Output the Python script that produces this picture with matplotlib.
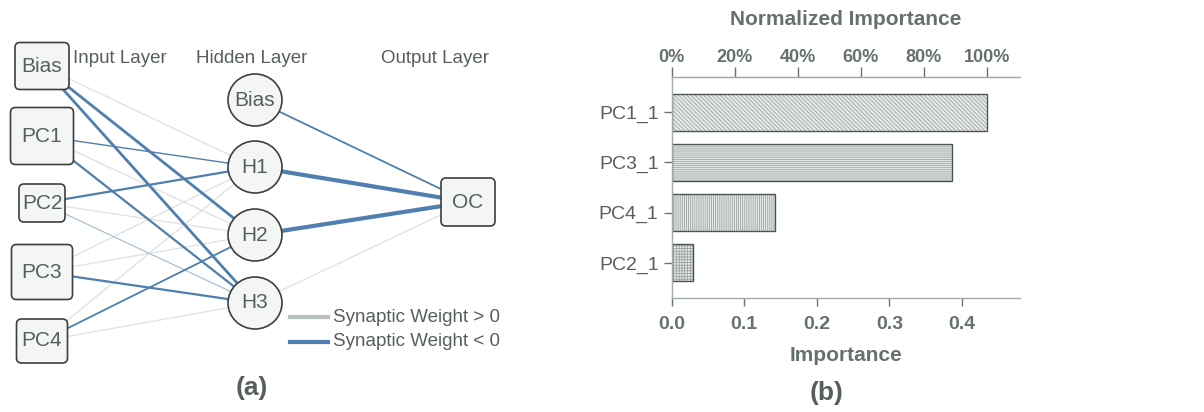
import matplotlib.pyplot as plt
from matplotlib.patches import FancyBboxPatch, Ellipse
from matplotlib.lines import Line2D

plt.rcParams['font.family'] = ['Liberation Sans', 'DejaVu Sans']
plt.rcParams['hatch.linewidth'] = 0.6

TEXT = '#565f5d'
LIGHT_TEXT = '#66716f'
BLUE = '#4f7fae'
LIGHT_BLUE = '#9bbad6'
GRAY_LINE = '#dfe4e2'

# --- (a) network diagram ---
input_names = ['Bias', 'PC1', 'PC2', 'PC3', 'PC4']
input_x = 42
input_y = [66, 136, 203, 272, 341]
input_w = [54, 63, 46, 61, 51]
input_h = [47, 57, 38, 55, 44]

hidden_names = ['Bias', 'H1', 'H2', 'H3']
hidden_x = 255
hidden_y = [100, 167, 235, 303]

output_name = 'OC'
output_xy = (468, 202)

layer_titles = ['Input Layer', 'Hidden Layer', 'Output Layer']
layer_title_x = [120, 252, 435]

# (source, target, sign, width)  sign <0 drawn blue
in_links = [
    ('Bias', 'H1', 1, 1.0), ('PC1', 'H2', 1, 1.0), ('PC2', 'H2', 1, 1.0),
    ('PC3', 'H1', 1, 1.0), ('PC3', 'H2', 1, 1.0), ('PC4', 'H1', 1, 1.0),
    ('PC4', 'H3', 1, 1.0),
    ('Bias', 'H2', -1, 2.0), ('Bias', 'H3', -1, 2.0), ('PC1', 'H1', -1, 1.0),
    ('PC1', 'H3', -1, 1.6), ('PC2', 'H1', -1, 1.6), ('PC2', 'H3', -1, 0.8),
    ('PC3', 'H3', -1, 1.6), ('PC4', 'H2', -1, 1.3),
]
out_links = [('Bias', -1, 1.3), ('H1', -1, 3.0), ('H2', -1, 3.0), ('H3', 1, 1.0)]

# --- (b) importance ---
predictors = ['PC1_1', 'PC3_1', 'PC4_1', 'PC2_1']
importance = [0.434, 0.386, 0.142, 0.030]
hatches = ['\\\\\\\\\\\\\\\\', '--------', '||||||||', '++++++']

fig = plt.figure(figsize=(12.04, 4.12), dpi=100)
fig.patch.set_facecolor('white')

ax = fig.add_axes([0, 0, 600 / 1204, 1])
ax.set_xlim(0, 600)
ax.set_ylim(412, 0)
ax.axis('off')

in_pos = dict(zip(input_names, input_y))
hid_pos = dict(zip(hidden_names, hidden_y))

for src, dst, sign, lw in in_links:
    if sign > 0:
        color = GRAY_LINE
    elif lw < 1:
        color = LIGHT_BLUE
    else:
        color = BLUE
    ax.plot([input_x, hidden_x], [in_pos[src], hid_pos[dst]], color=color, lw=lw, zorder=1,
            solid_capstyle='butt')

for src, sign, lw in out_links:
    color = BLUE if sign < 0 else GRAY_LINE
    ax.plot([hidden_x, output_xy[0]], [hid_pos[src], output_xy[1]], color=color, lw=lw, zorder=1,
            solid_capstyle='butt')

for name, y, w, h in zip(input_names, input_y, input_w, input_h):
    box = FancyBboxPatch((input_x - w / 2 + 5, y - h / 2 + 5), w - 10, h - 10,
                         boxstyle='round,pad=5', fc='#f4f6f5', ec='#3b403f', lw=1.2, zorder=3)
    ax.add_patch(box)
    ax.text(input_x, y, name, ha='center', va='center', fontsize=15, color=TEXT, zorder=4)

for name, y in zip(hidden_names, hidden_y):
    ax.add_patch(Ellipse((hidden_x, y), 54, 52, fc='#f4f6f5', ec='#3b403f', lw=1.2, zorder=3))
    ax.text(hidden_x, y, name, ha='center', va='center', fontsize=15, color=TEXT, zorder=4)

box = FancyBboxPatch((output_xy[0] - 22, output_xy[1] - 19), 44, 38,
                     boxstyle='round,pad=5', fc='#f4f6f5', ec='#3b403f', lw=1.2, zorder=3)
ax.add_patch(box)
ax.text(output_xy[0], output_xy[1], output_name, ha='center', va='center', fontsize=15,
        color=TEXT, zorder=4)

for title, x in zip(layer_titles, layer_title_x):
    ax.text(x, 58, title, ha='center', va='center', fontsize=13.5, color=TEXT)

ax.add_line(Line2D([290, 328], [317, 317], color='#b9c2bf', lw=3))
ax.add_line(Line2D([290, 328], [342, 342], color=BLUE, lw=3))
ax.text(333, 317, 'Synaptic Weight > 0', ha='left', va='center', fontsize=13.5, color=TEXT)
ax.text(333, 342, 'Synaptic Weight < 0', ha='left', va='center', fontsize=13.5, color=TEXT)
ax.text(252, 388, '(a)', ha='center', va='center', fontsize=19, fontweight='bold', color=TEXT)

# --- (b) bar chart ---
bx = fig.add_axes([671.7 / 1204, 114 / 412, (1020 - 671.7) / 1204, 221 / 412])
ypos = list(range(len(predictors)))
bars = bx.barh(ypos, importance, height=0.74, color='#e6eae8', edgecolor='#9aa39f', lw=0)
for bar, h in zip(bars, hatches):
    bar.set_hatch(h)
bx.barh(ypos, importance, height=0.74, fill=False, edgecolor='#4d5553', lw=1.0)
bx.set_yticks(ypos)
bx.set_yticklabels(predictors)
bx.set_ylim(3.7, -0.7)
bx.set_xlim(0, 0.48)
bx.set_xticks([0.0, 0.1, 0.2, 0.3, 0.4])
bx.set_xticklabels(['0.0', '0.1', '0.2', '0.3', '0.4'], fontweight='bold')
bx.spines['right'].set_visible(False)
for s in ['top', 'bottom', 'left']:
    bx.spines[s].set_color('#a3aba8')
    bx.spines[s].set_linewidth(1.0)
bx.tick_params(axis='both', colors='#6b7472', labelcolor=TEXT, labelsize=14, length=6, width=1)
bx.tick_params(axis='x', pad=7, labelcolor=LIGHT_TEXT)
bx.set_xlabel('Importance', fontsize=15, fontweight='bold', color=LIGHT_TEXT, labelpad=9)

top = bx.secondary_xaxis('top', functions=(lambda v: v / importance[0] * 100,
                                           lambda p: p * importance[0] / 100))
top.set_xticks([0, 20, 40, 60, 80, 100])
top.set_xticklabels(['0%', '20%', '40%', '60%', '80%', '100%'], fontweight='bold')
top.spines['top'].set_color('#a3aba8')
top.tick_params(colors='#6b7472', labelcolor=LIGHT_TEXT, labelsize=13, length=7, width=1, pad=1)
top.set_xlabel('Normalized Importance', fontsize=15, fontweight='bold', color=LIGHT_TEXT,
               labelpad=17)

fig.text(827 / 1204, 1 - 393 / 412, '(b)', ha='center', va='center', fontsize=19,
         fontweight='bold', color=TEXT)

fig.savefig('out.png', dpi=100)
